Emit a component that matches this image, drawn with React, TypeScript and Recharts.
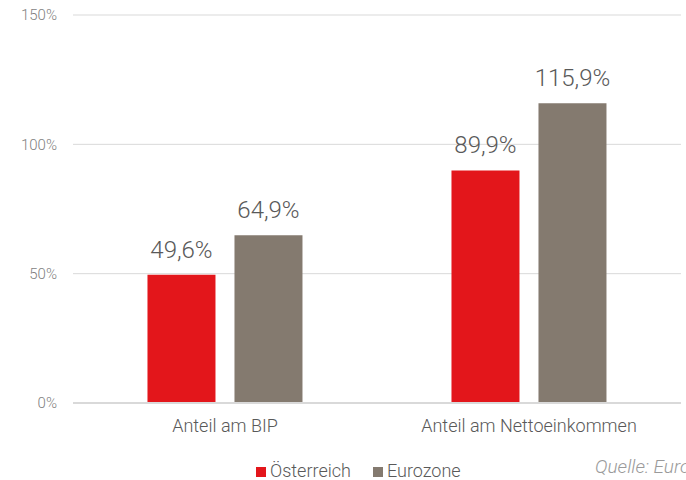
import React from "react";
import { BarChart, Bar, XAxis, YAxis, CartesianGrid, Legend, LabelList } from "recharts";

const categories = ["Anteil am BIP", "Anteil am Nettoeinkommen"];
const oesterreich = [49.6, 89.9];
const eurozone = [64.9, 115.9];
const yTicks = [0, 50, 100, 150];
const seriesNames = ["Österreich", "Eurozone"];
const sourceText = "Quelle: Eurostat";

const RED = "#E3161B";
const GREY = "#847A6F";
const FONT = "Roboto, 'Noto Sans', sans-serif";

const data = categories.map((c, i) => ({ name: c, at: oesterreich[i], ez: eurozone[i] }));

const fmt = (v: number) => v.toFixed(1).replace(".", ",") + "%";

const LegendContent = () => (
  <div style={{ display: "flex", alignItems: "center", boxSizing: "border-box", paddingTop: 12, fontFamily: FONT, fontWeight: 300, fontSize: 18, lineHeight: "18px", color: "#595959", height: 30 }}>
    <span style={{ display: "inline-block", width: 10, height: 10, background: RED, marginRight: 4, marginTop: 2 }} />
    <span style={{ marginRight: 22 }}>{seriesNames[0]}</span>
    <span style={{ display: "inline-block", width: 10, height: 10, background: GREY, marginRight: 4, marginTop: 2 }} />
    <span>{seriesNames[1]}</span>
  </div>
);

const labelStyle = { fill: "#595959", fontSize: 24, fontFamily: FONT, fontWeight: 300 };

export default function App() {
  return (
    <div style={{ position: "absolute", left: 0, top: 0, width: 686, height: 480, overflow: "hidden", background: "#fff" }}>
      <BarChart
        width={686}
        height={480}
        data={data}
        margin={{ top: 15, right: 5, left: 0, bottom: 0 }}
        barGap={19}
        barCategoryGap="24.5%"
      >
        <CartesianGrid vertical={false} stroke="#d9d9d9" strokeWidth={1} />
        <XAxis
          dataKey="name"
          axisLine={{ stroke: "#d9d9d9", strokeWidth: 2 }}
          tickLine={false}
          height={47}
          tick={{ fill: "#595959", fontSize: 18, fontFamily: FONT, fontWeight: 300 }}
          tickMargin={10}
        />
        <YAxis
          width={73}
          domain={[0, 150]}
          ticks={yTicks}
          axisLine={false}
          tickLine={false}
          tickMargin={10}
          tickFormatter={(v: number) => `${v}%`}
          tick={{ fill: "#7f7f7f", fontSize: 15, fontFamily: FONT, fontWeight: 300 }}
        />
        <Legend
          verticalAlign="bottom"
          content={<LegendContent />}
          wrapperStyle={{ left: 256, width: 260, height: 30 }}
        />
        <Bar dataKey="at" name={seriesNames[0]} fill={RED} isAnimationActive={false}>
          <LabelList dataKey="at" position="top" offset={17} formatter={(v: number) => fmt(v)} style={labelStyle} />
        </Bar>
        <Bar dataKey="ez" name={seriesNames[1]} fill={GREY} isAnimationActive={false}>
          <LabelList dataKey="ez" position="top" offset={17} formatter={(v: number) => fmt(v)} style={labelStyle} />
        </Bar>
      </BarChart>
      <div style={{ position: "absolute", left: 595, top: 455, whiteSpace: "nowrap", fontFamily: FONT, fontWeight: 300, fontStyle: "italic", fontSize: 19, color: "#9a9a9a" }}>
        {sourceText}
      </div>
    </div>
  );
}
